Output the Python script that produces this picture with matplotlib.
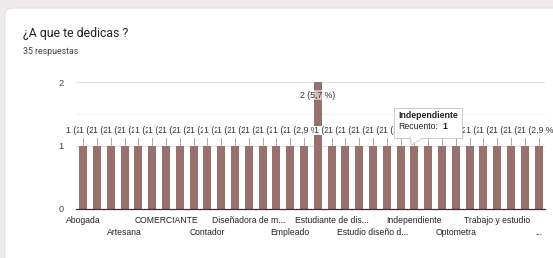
import matplotlib
matplotlib.use("Agg")
import matplotlib.pyplot as plt
from matplotlib.patches import FancyBboxPatch, Polygon, Rectangle

# ---------------- data ----------------
categories = [
    "Abogada", "Administradora", "Arquitecta", "Artesana", "Asesora", "Auxiliar",
    "COMERCIANTE", "Cocinera", "Comerciante", "Contador", "Docente", "Diseñador",
    "Diseñadora de modas", "Diseñadora gráfica", "Emprendedora", "Empleado",
    "Enfermera", "Estudiante", "Estudiante de diseño", "Estudiante de moda",
    "Estudiante universitaria", "Estudio diseño de modas", "Hogar", "Ingeniera",
    "Independiente", "Modista", "Negociante", "Optometra", "Secretaria",
    "Trabajo", "Trabajo y estudio", "Ventas", "Vendedora", "Zapatera",
]
values = [1] * 17 + [2] + [1] * 16
total_responses = 35
tick_labels = ["Abogada", "Artesana", "COMERCIANTE", "Contador",
               "Diseñadora de m...", "Empleado", "Estudiante de dis...",
               "Estudio diseño d...", "Independiente", "Optometra",
               "Trabajo y estudio", "..."]
tick_step = 3
tooltip_index = 24
title = "¿A que te dedicas ?"
subtitle = f"{total_responses} respuestas"

BAR = "#98706c"
FONT = ["Liberation Sans", "DejaVu Sans"]

fig = plt.figure(figsize=(5.53, 2.58), dpi=100, facecolor="#eeeaea")
W, H = 553, 258

# card
card = FancyBboxPatch((5 / W, -0.1), 1.1, (H - 8) / H + 0.1,
                      boxstyle="round,pad=0,rounding_size=0.02",
                      transform=fig.transFigure, facecolor="white",
                      edgecolor="#dcdcdc", linewidth=0.6, zorder=-5)
fig.patches.append(card)

fig.text(23 / W, 1 - 33 / H, title, fontsize=8.8, family=["Roboto", "DejaVu Sans"],
         color="#202124", va="center", ha="left")
fig.text(23 / W, 1 - 51 / H, subtitle, fontsize=6.3, family=["Roboto", "DejaVu Sans"],
         color="#3c4043", va="center", ha="left")

ax = fig.add_axes([76.4 / W, 1 - 209 / H, (545.4 - 76.4) / W, (209 - 82) / H])
ax.set_zorder(2)
ax.set_facecolor("none")
x = list(range(len(categories)))
ax.bar(x, values, width=0.58, color=BAR, zorder=2)
ax.set_xlim(-0.5, len(categories) - 0.5)
ax.set_ylim(0, 2)
for s in ["top", "right", "left"]:
    ax.spines[s].set_visible(False)
ax.spines["bottom"].set_color("#333333")
ax.spines["bottom"].set_linewidth(0.9)
ax.spines["bottom"].set_zorder(3)

ax.set_yticks([0, 1, 2])
ax.set_yticklabels(["0", "1", "2"], fontsize=6.6, color="#444444", family=FONT)
ax.tick_params(axis="y", length=0, pad=9)
for yv, c in [(1, "#e4e4e4"), (2, "#e4e4e4"), (1.5, "#f4f4f4")]:
    ax.axhline(yv, color=c, linewidth=0.8, zorder=1)

# x labels: alternating rows
major_pos = x[::tick_step][0::2]
minor_pos = x[::tick_step][1::2]
ax.set_xticks(major_pos)
ax.set_xticklabels(tick_labels[0::2], fontsize=6.2, color="#222222", family=FONT)
ax.set_xticks(minor_pos, minor=True)
ax.set_xticklabels(tick_labels[1::2], minor=True, fontsize=6.2, color="#222222", family=FONT)
ax.tick_params(axis="x", which="major", length=0, pad=5.2)
ax.tick_params(axis="x", which="minor", length=0, pad=14.0)

# data labels
for xi, v in zip(x, values):
    pct = f"{v / total_responses * 100:.1f}".replace(".", ",")
    lab = f"{v} ({pct} %)"
    if v < 2:
        ax.plot([xi, xi], [v, v + 0.12], color="#999999", linewidth=0.6, zorder=3)
        ax.text(xi, v + 0.235, lab, ha="center", va="center", fontsize=6.3,
                color="#333333", family=FONT, zorder=4, clip_on=False,
                bbox=dict(boxstyle="square,pad=0.02", facecolor="white", edgecolor="none"))
    else:
        ax.text(xi, v - 0.205, lab, ha="center", va="center", fontsize=6.3,
                color="#333333", family=FONT, zorder=4,
                bbox=dict(boxstyle="square,pad=0.05", facecolor="white",
                          edgecolor="none", alpha=0.55))

# tooltip (pixel geometry anchored at the hovered bar's top)
fig.canvas.draw()
ax_x, ax_y = ax.transData.transform((tooltip_index, values[tooltip_index]))
bx0, by0 = ax_x - 20, ax_y + 8
shadow = Rectangle((bx0 + 1, by0 - 1), 68, 30, transform=None,
                   facecolor="#00000018", edgecolor="none", zorder=9)
box = Rectangle((bx0, by0), 68, 30, transform=None, facecolor="white",
                edgecolor="#cccccc", linewidth=0.7, zorder=10)
tri = Polygon([(ax_x - 4, by0 + 0.5), (ax_x + 10, by0 + 0.5), (ax_x - 3, ax_y + 0.5)],
              closed=True, transform=None, facecolor="white", edgecolor="#cccccc",
              linewidth=0.7, zorder=10)
tri_cover = Rectangle((ax_x - 3.3, by0 - 0.2), 13, 1.4, transform=None,
                      facecolor="white", edgecolor="none", zorder=11)
fig.patches.extend([shadow, box, tri, tri_cover])
fig.text((bx0 + 4) / W, (ax_y + 30) / H, categories[tooltip_index], fontsize=6.3,
         weight="bold", family=FONT, color="#222222", va="center", ha="left", zorder=12)
fig.text((bx0 + 4) / W, (ax_y + 19) / H, "Recuento:", fontsize=6.3,
         family=FONT, color="#222222", va="center", ha="left", zorder=12)
fig.text((bx0 + 48) / W, (ax_y + 19) / H, str(values[tooltip_index]), fontsize=6.3,
         weight="bold", family=FONT, color="#222222", va="center", ha="left", zorder=12)

fig.savefig("out.png", dpi=100, facecolor=fig.get_facecolor())
